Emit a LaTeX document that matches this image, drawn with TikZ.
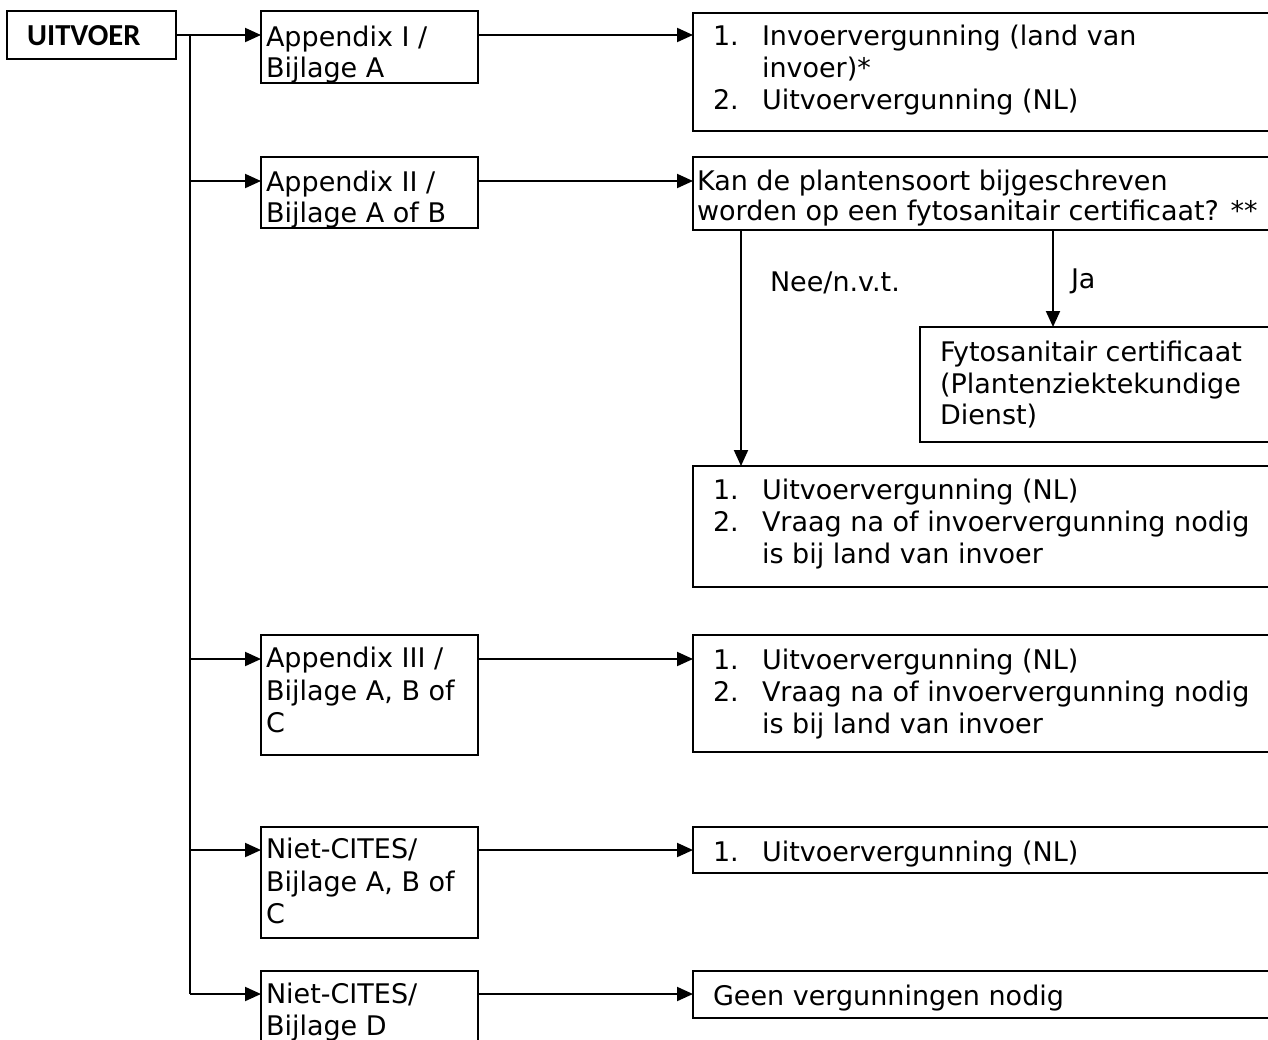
\documentclass[tikz,border=0pt]{standalone}
\usepackage{fontspec}
\setmainfont{DejaVu Sans}
\newfontfamily\uitfont{Carlito}
\usetikzlibrary{arrows.meta}
\begin{document}
\begin{tikzpicture}[x=1pt,y=-1pt,
  box/.style={draw=black,line width=2pt,anchor=north west,inner sep=0pt,outer sep=0pt},
  txt/.style={anchor=base west,inner sep=0pt,outer sep=0pt,font=\fontsize{27}{32}\selectfont},
  ln/.style={draw=black,line width=2pt},
  arr/.style={ln,-{Triangle[length=16pt,width=14pt]}}]
\clip (0,0) rectangle (1268,1039);
\fill[white] (0,0) rectangle (1268,1039);
% boxes
\node[box,minimum width=169pt,minimum height=48pt] (u) at (7,11) {};
\node[box,minimum width=217pt,minimum height=72pt] (a1) at (261,11) {};
\node[box,minimum width=217pt,minimum height=71pt] (a2) at (261,157) {};
\node[box,minimum width=217pt,minimum height=120pt] (a3) at (261,635) {};
\node[box,minimum width=217pt,minimum height=111pt] (a4) at (261,827) {};
\node[box,minimum width=217pt,minimum height=90pt] (a5) at (261,971) {};
\node[box,minimum width=600pt,minimum height=118pt] (r1) at (693,13) {};
\node[box,minimum width=600pt,minimum height=73pt] (r2) at (693,157) {};
\node[box,minimum width=600pt,minimum height=121pt] (r3) at (693,466) {};
\node[box,minimum width=600pt,minimum height=117pt] (r4) at (693,635) {};
\node[box,minimum width=600pt,minimum height=46pt] (r5) at (693,827) {};
\node[box,minimum width=600pt,minimum height=47pt] (r6) at (693,971) {};
\node[box,minimum width=400pt,minimum height=115pt] (fy) at (920,327) {};
% texts
\node[anchor=base west,inner sep=0pt,font=\uitfont\bfseries\fontsize{30.5}{36}\selectfont] (ut) at (27,45) {UITVOER};
\begin{scope}
\clip (a1.north west) rectangle ([yshift=1pt]a1.south east);
\node[txt] (a1t1) at (266,46) {Appendix I /};
\node[txt] (a1t2) at (266,77) {Bijlage A};
\end{scope}
\begin{scope}
\clip (a2.north west) rectangle ([yshift=1pt]a2.south east);
\node[txt] (a2t1) at (266,191) {Appendix II /};
\node[txt] (a2t2) at (266,222) {Bijlage A of B};
\end{scope}
\node[txt] (a3t1) at (266,667) {Appendix III /};
\node[txt] (a3t2) at (266,700) {Bijlage A, B of};
\node[txt] (a3t3) at (266,732) {C};
\node[txt] (a4t1) at (266,858) {Niet-CITES/};
\node[txt] (a4t2) at (266,891) {Bijlage A, B of};
\node[txt] (a4t3) at (266,923) {C};
\node[txt] (a5t1) at (266,1003) {Niet-CITES/};
\node[txt] (a5t2) at (266,1035) {Bijlage D};
\node[txt] (r1n1) at (713,45) {1.};
\node[txt] (r1t1) at (762,45) {Invoervergunning (land van};
\node[txt] (r1t2) at (762,77) {invoer)*};
\node[txt] (r1n2) at (713,109) {2.};
\node[txt] (r1t3) at (762,109) {Uitvoervergunning (NL)};
\node[txt] (r2t1) at (697,190) {Kan de plantensoort bijgeschreven};
\node[txt] (r2t2) at (697,220) {worden op een fytosanitair certificaat? **};
\node[txt] (nee) at (770,291) {Nee/n.v.t.};
\node[txt] (ja) at (1071,288) {Ja};
\node[txt] (fyt1) at (940,361) {Fytosanitair certificaat};
\node[txt] (fyt2) at (940,393) {(Plantenziektekundige};
\node[txt] (fyt3) at (940,424) {Dienst)};
\node[txt] (r3n1) at (713,499) {1.};
\node[txt] (r3t1) at (762,499) {Uitvoervergunning (NL)};
\node[txt] (r3n2) at (713,531) {2.};
\node[txt] (r3t2) at (762,531) {Vraag na of invoervergunning nodig};
\node[txt] (r3t3) at (762,563) {is bij land van invoer};
\node[txt] (r4n1) at (713,669) {1.};
\node[txt] (r4t1) at (762,669) {Uitvoervergunning (NL)};
\node[txt] (r4n2) at (713,701) {2.};
\node[txt] (r4t2) at (762,701) {Vraag na of invoervergunning nodig};
\node[txt] (r4t3) at (762,733) {is bij land van invoer};
\node[txt] (r5n1) at (713,861) {1.};
\node[txt] (r5t1) at (762,861) {Uitvoervergunning (NL)};
\node[txt] (r6t1) at (713,1005) {Geen vergunningen nodig};
% connector rows
\coordinate (row1) at (0,35);
\coordinate (row2) at (0,181);
\coordinate (row3) at (0,659);
\coordinate (row4) at (0,850);
\coordinate (row5) at (0,994);
\coordinate (tr) at (190,35);
\coordinate (neex) at (741,0);
\coordinate (jax) at (1053,0);
% connectors
\draw[arr] (u.east) -- (a1.west |- row1);
\draw[ln] (tr) -- (tr |- row5);
\draw[arr] (tr |- row2) -- (a2.west |- row2);
\draw[arr] (tr |- row3) -- (a3.west |- row3);
\draw[arr] (tr |- row4) -- (a4.west |- row4);
\draw[arr] (tr |- row5) -- (a5.west |- row5);
\draw[arr] (a1.east |- row1) -- (r1.west |- row1);
\draw[arr] (a2.east |- row2) -- (r2.west |- row2);
\draw[arr] (a3.east |- row3) -- (r3.west |- row3) ;
\draw[arr] (a4.east |- row4) -- (r5.west |- row4);
\draw[arr] (a5.east |- row5) -- (r6.west |- row5);
\draw[arr] (r2.south -| neex) -- (r3.north -| neex);
\draw[arr] (r2.south -| jax) -- (fy.north -| jax);
\end{tikzpicture}
\end{document}
